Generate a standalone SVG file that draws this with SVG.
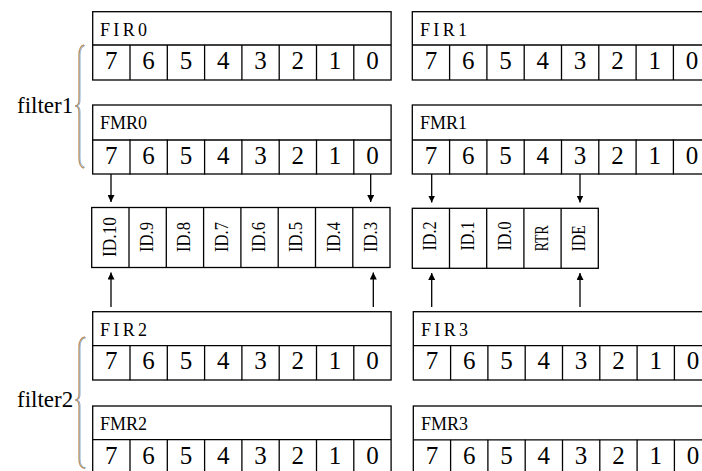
<svg xmlns="http://www.w3.org/2000/svg" width="702" height="471" viewBox="0 0 702 471">
<style>
.box{fill:#fff;stroke:#000;stroke-width:1.3}
.ln{stroke:#000;stroke-width:1.3;fill:none}
.ttl{font-family:"Liberation Serif",serif;font-size:18px;fill:#000}
.dig{font-family:"Liberation Serif",serif;font-size:25px;fill:#000;text-anchor:middle}
.rot{font-family:"Liberation Serif",serif;font-size:19px;fill:#000;text-anchor:middle}
.lbl{font-family:"Liberation Serif",serif;font-size:23px;fill:#000}
.arr{stroke:#000;stroke-width:1.3;fill:none}
.br1{stroke:#c4955c;stroke-width:1.4;fill:none}
.br2{stroke:#6b95d2;stroke-width:0.8;fill:none}
</style>
<defs>
<marker id="ah" markerUnits="userSpaceOnUse" markerWidth="8" markerHeight="7" refX="7" refY="3.5" orient="auto">
<path d="M0,0 L7,3.5 L0,7 Z" fill="#000"/>
</marker>
<g id="bits8">
<line class="ln" x1="37.3" y1="0" x2="37.3" y2="35"/>
<line class="ln" x1="74.6" y1="0" x2="74.6" y2="35"/>
<line class="ln" x1="111.9" y1="0" x2="111.9" y2="35"/>
<line class="ln" x1="149.2" y1="0" x2="149.2" y2="35"/>
<line class="ln" x1="186.5" y1="0" x2="186.5" y2="35"/>
<line class="ln" x1="223.8" y1="0" x2="223.8" y2="35"/>
<line class="ln" x1="261.1" y1="0" x2="261.1" y2="35"/>
<text class="dig" x="18.6" y="24">7</text>
<text class="dig" x="55.9" y="24">6</text>
<text class="dig" x="93.2" y="24">5</text>
<text class="dig" x="130.5" y="24">4</text>
<text class="dig" x="167.8" y="24">3</text>
<text class="dig" x="205.1" y="24">2</text>
<text class="dig" x="242.4" y="24">1</text>
<text class="dig" x="279.7" y="24">0</text>
</g>
</defs>

<!-- braces and labels -->
<g id="filter1">
<path class="br1" d="M84,45 Q79,46 79,55 L79,100 Q79,106 75,106 Q79,106 79,112 L79,158 Q79,167 84,168"/>
<path class="br2" d="M85,45.5 Q80,47 80,55 L80,100 Q80,106 76.5,106 Q80,106 80,112 L80,158 Q80,166 85,167.5"/>
<text class="lbl" x="17" y="113">filter1</text>
</g>
<g id="filter2">
<path class="br1" d="M85,337 Q79,338 79,347 L79,394 Q79,400 75,400 Q79,400 79,406 L79,459 Q79,468 85,468.5"/>
<path class="br2" d="M86,337.5 Q80,339 80,347 L80,394 Q80,400 76.5,400 Q80,400 80,406 L80,459 Q80,467 86,468"/>
<text class="lbl" x="17" y="407">filter2</text>
</g>

<!-- registers -->
<g id="FIR0">
<rect class="box" x="92.7" y="11.7" width="298.4" height="68.3"/>
<line class="ln" x1="92.7" y1="45" x2="391.1" y2="45"/>
<text class="ttl" x="100" y="36" textLength="47" lengthAdjust="spacing">FIR0</text>
<use href="#bits8" x="92.7" y="45"/>
</g>
<g id="FMR0">
<rect class="box" x="92.7" y="105" width="298.4" height="69"/>
<line class="ln" x1="92.7" y1="140" x2="391.1" y2="140"/>
<text class="ttl" x="100" y="129.3" textLength="47" lengthAdjust="spacing">FMR0</text>
<use href="#bits8" x="92.7" y="139.5"/>
</g>
<g id="FIR1">
<rect class="box" x="412.3" y="11.7" width="298.4" height="68.3"/>
<line class="ln" x1="412.3" y1="45" x2="710.7" y2="45"/>
<text class="ttl" x="420" y="36" textLength="47" lengthAdjust="spacing">FIR1</text>
<use href="#bits8" x="412.3" y="45"/>
</g>
<g id="FMR1">
<rect class="box" x="412.3" y="105" width="298.4" height="69"/>
<line class="ln" x1="412.3" y1="140" x2="710.7" y2="140"/>
<text class="ttl" x="420" y="129.3" textLength="47" lengthAdjust="spacing">FMR1</text>
<use href="#bits8" x="412.3" y="139.5"/>
</g>
<g id="FIR2">
<rect class="box" x="92.7" y="311.7" width="298.4" height="68.3"/>
<line class="ln" x1="92.7" y1="345.7" x2="391.1" y2="345.7"/>
<text class="ttl" x="100" y="336" textLength="47" lengthAdjust="spacing">FIR2</text>
<use href="#bits8" x="92.7" y="345.2"/>
</g>
<g id="FMR2">
<rect class="box" x="92.7" y="406" width="298.4" height="68"/>
<line class="ln" x1="92.7" y1="439.6" x2="391.1" y2="439.6"/>
<text class="ttl" x="100" y="430.3" textLength="47" lengthAdjust="spacing">FMR2</text>
<use href="#bits8" x="92.7" y="439.6"/>
</g>
<g id="FIR3">
<rect class="box" x="413.3" y="311.7" width="298.4" height="68.3"/>
<line class="ln" x1="413.3" y1="345.7" x2="711.7" y2="345.7"/>
<text class="ttl" x="421" y="336" textLength="47" lengthAdjust="spacing">FIR3</text>
<use href="#bits8" x="413.3" y="345.2"/>
</g>
<g id="FMR3">
<rect class="box" x="413.3" y="406" width="298.4" height="68"/>
<line class="ln" x1="413.3" y1="439.8" x2="711.7" y2="439.8"/>
<text class="ttl" x="421" y="430.3" textLength="47" lengthAdjust="spacing">FMR3</text>
<use href="#bits8" x="413.3" y="439.8"/>
</g>

<!-- ID boxes -->
<g id="ID-high">
<rect class="box" x="91.7" y="207.5" width="298.3" height="60"/>
<line class="ln" x1="129" y1="207.5" x2="129" y2="267.5"/>
<line class="ln" x1="166.3" y1="207.5" x2="166.3" y2="267.5"/>
<line class="ln" x1="203.6" y1="207.5" x2="203.6" y2="267.5"/>
<line class="ln" x1="240.9" y1="207.5" x2="240.9" y2="267.5"/>
<line class="ln" x1="278.2" y1="207.5" x2="278.2" y2="267.5"/>
<line class="ln" x1="315.5" y1="207.5" x2="315.5" y2="267.5"/>
<line class="ln" x1="352.8" y1="207.5" x2="352.8" y2="267.5"/>
<text class="rot" transform="translate(115.8,237) rotate(-90)" textLength="40" lengthAdjust="spacingAndGlyphs">ID.10</text>
<text class="rot" transform="translate(153.1,237) rotate(-90)" textLength="30" lengthAdjust="spacingAndGlyphs">ID.9</text>
<text class="rot" transform="translate(190.4,237) rotate(-90)" textLength="30" lengthAdjust="spacingAndGlyphs">ID.8</text>
<text class="rot" transform="translate(227.7,237) rotate(-90)" textLength="30" lengthAdjust="spacingAndGlyphs">ID.7</text>
<text class="rot" transform="translate(265,237) rotate(-90)" textLength="30" lengthAdjust="spacingAndGlyphs">ID.6</text>
<text class="rot" transform="translate(302.3,237) rotate(-90)" textLength="30" lengthAdjust="spacingAndGlyphs">ID.5</text>
<text class="rot" transform="translate(339.6,237) rotate(-90)" textLength="30" lengthAdjust="spacingAndGlyphs">ID.4</text>
<text class="rot" transform="translate(376.9,237) rotate(-90)" textLength="30" lengthAdjust="spacingAndGlyphs">ID.3</text>
</g>
<g id="ID-low">
<rect class="box" x="412.3" y="208.3" width="186" height="60"/>
<line class="ln" x1="449.5" y1="208.3" x2="449.5" y2="268.3"/>
<line class="ln" x1="486.7" y1="208.3" x2="486.7" y2="268.3"/>
<line class="ln" x1="523.9" y1="208.3" x2="523.9" y2="268.3"/>
<line class="ln" x1="561.1" y1="208.3" x2="561.1" y2="268.3"/>
<text class="rot" transform="translate(436.4,236) rotate(-90)" textLength="29" lengthAdjust="spacingAndGlyphs">ID.2</text>
<text class="rot" transform="translate(473.6,236) rotate(-90)" textLength="29" lengthAdjust="spacingAndGlyphs">ID.1</text>
<text class="rot" transform="translate(510.8,236) rotate(-90)" textLength="29" lengthAdjust="spacingAndGlyphs">ID.0</text>
<text class="rot" transform="translate(548,238.3) rotate(-90)" textLength="26" lengthAdjust="spacingAndGlyphs">RTR</text>
<text class="rot" transform="translate(585.2,238.3) rotate(-90)" textLength="26" lengthAdjust="spacingAndGlyphs">IDE</text>
</g>

<!-- connectors -->
<g id="connectors">
<line class="arr" x1="111" y1="174" x2="111" y2="202" marker-end="url(#ah)"/>
<line class="arr" x1="370.7" y1="174" x2="370.7" y2="202" marker-end="url(#ah)"/>
<line class="arr" x1="431.7" y1="174" x2="431.7" y2="202.5" marker-end="url(#ah)"/>
<line class="arr" x1="580" y1="174" x2="580" y2="202.5" marker-end="url(#ah)"/>
<line class="arr" x1="111" y1="307" x2="111" y2="272.5" marker-end="url(#ah)"/>
<line class="arr" x1="373.3" y1="307" x2="373.3" y2="272.5" marker-end="url(#ah)"/>
<line class="arr" x1="431.7" y1="307" x2="431.7" y2="273" marker-end="url(#ah)"/>
<line class="arr" x1="580" y1="307" x2="580" y2="273" marker-end="url(#ah)"/>
</g>
</svg>
